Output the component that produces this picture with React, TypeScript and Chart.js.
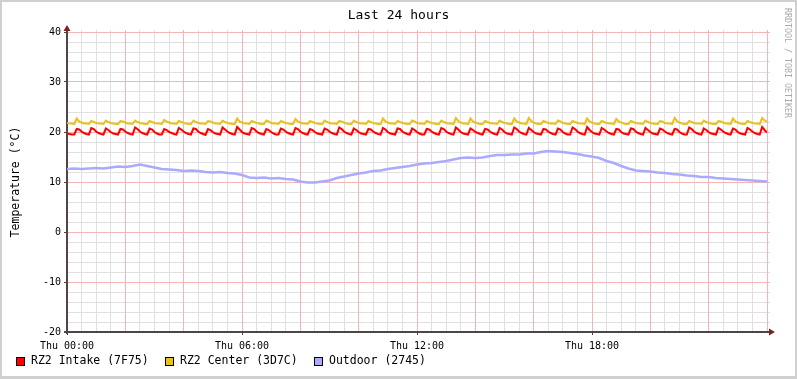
import React, { useEffect, useRef } from "react";
import { Chart, registerables } from "chart.js";

Chart.register(...registerables);

const TITLE = "Last 24 hours";
const Y_TITLE = "Temperature (°C)";
const WATERMARK = "RRDTOOL / TOBI OETIKER";
const X_TICKS = [0, 6, 12, 18];
const X_TICK_LABELS = ["Thu 00:00", "Thu 06:00", "Thu 12:00", "Thu 18:00"];
const SERIES_NAMES = ["RZ2 Intake (7F75)", "RZ2 Center (3D7C)", "Outdoor (2745)"];
const SERIES_COLORS = ["#FF0000", "#EBC11C", "#AAAAFF"];

// 5-minute samples starting Thu 00:00
const INTAKE_STEP_MIN = 5;
const intake = [
  19.7, 19.6, 19.5, 19.5,
  20.6, 20.5, 20.1, 19.8, 19.6, 19.5,
  20.8, 20.6, 20.1, 19.8, 19.6, 19.5,
  20.7, 20.4, 20.0, 19.7, 19.6, 19.5,
  20.6, 20.5, 20.1, 19.8, 19.6, 19.5,
  20.9, 20.6, 20.1, 19.8, 19.6, 19.5,
  20.7, 20.5, 20.0, 19.7, 19.5, 19.5,
  20.6, 20.4, 20.0, 19.8, 19.6, 19.5,
  20.8, 20.5, 20.1, 19.8, 19.6, 19.5,
  20.7, 20.6, 20.1, 19.8, 19.6, 19.4,
  20.6, 20.4, 20.0, 19.7, 19.6, 19.5,
  20.9, 20.5, 20.1, 19.8, 19.6, 19.5,
  21.0, 20.5, 20.0, 19.7, 19.6, 19.5,
  20.8, 20.6, 20.1, 19.8, 19.6, 19.5,
  20.6, 20.4, 20.0, 19.7, 19.5, 19.5,
  20.7, 20.5, 20.1, 19.8, 19.6, 19.5,
  20.8, 20.6, 20.1, 19.8, 19.6, 19.5,
  20.6, 20.4, 20.0, 19.7, 19.6, 19.5,
  20.7, 20.5, 20.1, 19.8, 19.6, 19.5,
  20.9, 20.6, 20.1, 19.8, 19.6, 19.5,
  20.7, 20.4, 20.0, 19.7, 19.6, 19.5,
  20.6, 20.5, 20.1, 19.8, 19.6, 19.5,
  20.8, 20.5, 20.0, 19.7, 19.6, 19.5,
  20.7, 20.6, 20.1, 19.8, 19.6, 19.5,
  20.7, 20.4, 20.0, 19.7, 19.5, 19.5,
  20.6, 20.5, 20.1, 19.8, 19.6, 19.5,
  20.8, 20.6, 20.1, 19.8, 19.6, 19.5,
  20.9, 20.5, 20.0, 19.7, 19.6, 19.5,
  20.7, 20.4, 20.0, 19.8, 19.6, 19.5,
  20.6, 20.5, 20.1, 19.8, 19.6, 19.5,
  20.8, 20.5, 20.0, 19.7, 19.6, 19.5,
  20.9, 20.6, 20.1, 19.8, 19.6, 19.5,
  20.8, 20.4, 20.0, 19.7, 19.6, 19.5,
  20.6, 20.5, 20.1, 19.8, 19.6, 19.5,
  20.7, 20.5, 20.0, 19.7, 19.5, 19.5,
  20.9, 20.6, 20.1, 19.8, 19.6, 19.5,
  21.0, 20.4, 20.0, 19.7, 19.6, 19.5,
  20.8, 20.5, 20.1, 19.8, 19.6, 19.5,
  20.6, 20.5, 20.0, 19.7, 19.6, 19.5,
  20.7, 20.6, 20.1, 19.8, 19.6, 19.5,
  20.8, 20.4, 20.0, 19.7, 19.6, 19.5,
  20.7, 20.5, 20.1, 19.8, 19.6, 19.5,
  20.6, 20.5, 20.0, 19.7, 19.5, 19.5,
  20.9, 20.6, 20.1, 19.8, 19.6, 19.5,
  20.7, 20.4, 20.0, 19.7, 19.6, 19.5,
  20.8, 20.5, 20.1, 19.8, 19.6, 19.5,
  20.7, 20.5, 20.0, 19.7, 19.6, 19.5,
  20.8, 20.5, 20.1, 19.8, 19.6, 19.5,
  21.0, 20.4, 19.9,
];

const CENTER_STEP_MIN = 5;
const center = [
  21.8, 21.7, 21.7, 21.6,
  22.7, 22.1, 21.9, 21.7, 21.7, 21.6,
  22.2, 22.0, 21.8, 21.7, 21.7, 21.6,
  22.3, 22.0, 21.8, 21.7, 21.6, 21.6,
  22.2, 22.1, 21.9, 21.7, 21.7, 21.6,
  22.3, 22.0, 21.8, 21.7, 21.6, 21.6,
  22.2, 22.0, 21.8, 21.7, 21.7, 21.6,
  22.4, 22.1, 21.9, 21.7, 21.7, 21.6,
  22.2, 22.0, 21.8, 21.7, 21.6, 21.6,
  22.3, 22.0, 21.8, 21.7, 21.7, 21.6,
  22.2, 22.1, 21.9, 21.7, 21.7, 21.6,
  22.3, 22.0, 21.8, 21.7, 21.6, 21.6,
  22.7, 22.1, 21.9, 21.7, 21.7, 21.6,
  22.2, 22.0, 21.8, 21.7, 21.6, 21.6,
  22.3, 22.1, 21.8, 21.7, 21.7, 21.6,
  22.2, 22.0, 21.8, 21.7, 21.6, 21.6,
  22.6, 22.1, 21.9, 21.7, 21.7, 21.6,
  22.2, 22.0, 21.8, 21.7, 21.6, 21.6,
  22.3, 22.0, 21.8, 21.7, 21.7, 21.6,
  22.2, 22.1, 21.9, 21.7, 21.6, 21.6,
  22.3, 22.0, 21.8, 21.7, 21.7, 21.6,
  22.2, 22.0, 21.8, 21.7, 21.6, 21.6,
  22.7, 22.1, 21.9, 21.7, 21.7, 21.6,
  22.2, 22.0, 21.8, 21.7, 21.6, 21.6,
  22.3, 22.1, 21.8, 21.7, 21.7, 21.6,
  22.2, 22.0, 21.8, 21.7, 21.6, 21.6,
  22.3, 22.0, 21.8, 21.7, 21.7, 21.6,
  22.8, 22.2, 21.9, 21.7, 21.7, 21.6,
  22.7, 22.1, 21.9, 21.7, 21.6, 21.6,
  22.2, 22.0, 21.8, 21.7, 21.7, 21.6,
  22.3, 22.0, 21.8, 21.7, 21.6, 21.6,
  22.7, 22.1, 21.9, 21.7, 21.7, 21.6,
  22.8, 22.2, 21.9, 21.7, 21.6, 21.6,
  22.2, 22.0, 21.8, 21.7, 21.7, 21.6,
  22.3, 22.1, 21.8, 21.7, 21.6, 21.6,
  22.2, 22.0, 21.8, 21.7, 21.7, 21.6,
  22.7, 22.1, 21.9, 21.7, 21.6, 21.6,
  22.2, 22.0, 21.8, 21.7, 21.7, 21.6,
  22.6, 22.1, 21.9, 21.7, 21.6, 21.6,
  22.2, 22.0, 21.8, 21.7, 21.7, 21.6,
  22.3, 22.0, 21.8, 21.7, 21.6, 21.6,
  22.2, 22.1, 21.8, 21.7, 21.7, 21.6,
  22.8, 22.2, 21.9, 21.7, 21.6, 21.6,
  22.2, 22.0, 21.8, 21.7, 21.7, 21.6,
  22.3, 22.0, 21.8, 21.7, 21.6, 21.6,
  22.2, 22.1, 21.9, 21.7, 21.7, 21.6,
  22.7, 22.1, 21.9, 21.7, 21.6, 21.6,
  22.2, 22.0, 21.8, 21.7, 21.7, 21.6,
  22.8, 22.3, 22.0,
];

// 15-minute samples starting Thu 00:00
const OUTDOOR_STEP_MIN = 15;
const outdoor = [
  12.6, 12.7, 12.6, 12.7, 12.8, 12.7, 12.9, 13.1,
  13.0, 13.2, 13.5, 13.2, 12.9, 12.6, 12.5, 12.4,
  12.2, 12.3, 12.2, 12.0, 11.9, 12.0, 11.8, 11.7,
  11.4, 10.9, 10.8, 10.9, 10.7, 10.8, 10.6, 10.5,
  10.1, 9.9, 9.9, 10.1, 10.3, 10.8, 11.1, 11.4,
  11.7, 11.9, 12.2, 12.3, 12.6, 12.8, 13.0, 13.2,
  13.5, 13.7, 13.8, 14.0, 14.2, 14.5, 14.8, 14.9,
  14.8, 14.9, 15.2, 15.4, 15.4, 15.5, 15.5, 15.7,
  15.7, 16.0, 16.2, 16.1, 16.0, 15.8, 15.6, 15.3,
  15.1, 14.8, 14.2, 13.8, 13.2, 12.7, 12.3, 12.2,
  12.1, 11.9, 11.8, 11.6, 11.5, 11.3, 11.2, 11.0,
  11.0, 10.8, 10.7, 10.6, 10.5, 10.4, 10.3, 10.2,
  10.1,
];

const MONO = "'DejaVu Sans Mono', monospace";

const toPoints = (vals: number[], stepMin: number) =>
  vals.map((v, i) => ({ x: (i * stepMin) / 60, y: v }));

const rrdPlugin = {
  id: "rrdDecor",
  beforeDraw(chart: any) {
    const { ctx, width, height } = chart;
    ctx.save();
    ctx.fillStyle = "#ffffff";
    ctx.fillRect(0, 0, width, height);
    ctx.fillStyle = "#d0d0d0";
    ctx.fillRect(0, 0, width, 2);
    ctx.fillRect(0, 0, 2, height);
    ctx.fillRect(0, height - 3, width, 3);
    ctx.fillRect(width - 2, 0, 2, height);
    ctx.restore();
  },
  beforeDatasetsDraw(chart: any) {
    const { ctx, chartArea } = chart;
    const xs = chart.scales.x;
    const ys = chart.scales.y;
    const { left, right, top, bottom } = chartArea;
    ctx.save();
    ctx.lineWidth = 1;
    // minor grid
    ctx.strokeStyle = "#e0e0e0";
    ctx.beginPath();
    for (let v = -20; v <= 40; v += 2) {
      if (v % 10 === 0) continue;
      const y = Math.floor(ys.getPixelForValue(v)) + 0.5;
      ctx.moveTo(left, y);
      ctx.lineTo(right + 3, y);
    }
    for (let h = 0; h <= 24; h += 0.5) {
      if (h % 2 === 0) continue;
      const x = Math.floor(xs.getPixelForValue(h)) + 0.5;
      ctx.moveTo(x, top - 2);
      ctx.lineTo(x, bottom);
    }
    ctx.stroke();
    // major grid
    ctx.strokeStyle = "#f2b6b6";
    ctx.beginPath();
    for (let v = -20; v <= 40; v += 10) {
      const y = Math.floor(ys.getPixelForValue(v)) + 0.5;
      ctx.moveTo(left, y);
      ctx.lineTo(right + 3, y);
    }
    for (let h = 2; h <= 24; h += 2) {
      const x = Math.floor(xs.getPixelForValue(h)) + 0.5;
      ctx.moveTo(x, top - 2);
      ctx.lineTo(x, bottom);
    }
    ctx.stroke();
    // tick marks
    ctx.strokeStyle = "#444444";
    ctx.beginPath();
    for (let v = -20; v <= 40; v += 10) {
      const y = Math.floor(ys.getPixelForValue(v)) + 0.5;
      ctx.moveTo(left - 3, y);
      ctx.lineTo(left, y);
    }
    for (const h of X_TICKS) {
      const x = Math.floor(xs.getPixelForValue(h)) + 0.5;
      ctx.moveTo(x, bottom);
      ctx.lineTo(x, bottom + 3);
    }
    ctx.stroke();
    // axes
    ctx.fillStyle = "#4e4646";
    ctx.fillRect(left - 1, top - 4, 2, bottom - top + 6);
    ctx.fillRect(left - 3, bottom - 1, right - left + 8, 2);
    // arrows
    ctx.fillStyle = "#801f1f";
    ctx.beginPath();
    ctx.moveTo(left, top - 7);
    ctx.lineTo(left - 3.5, top - 1);
    ctx.lineTo(left + 3.5, top - 1);
    ctx.closePath();
    ctx.fill();
    ctx.beginPath();
    ctx.moveTo(right + 8, bottom);
    ctx.lineTo(right + 2, bottom - 3.5);
    ctx.lineTo(right + 2, bottom + 3.5);
    ctx.closePath();
    ctx.fill();
    ctx.restore();
  },
  afterDraw(chart: any) {
    const { ctx, width } = chart;
    ctx.save();
    // title
    ctx.fillStyle = "#000";
    ctx.font = `13px ${MONO}`;
    ctx.textAlign = "center";
    ctx.textBaseline = "middle";
    ctx.fillText(TITLE, width / 2, 16);
    // watermark
    ctx.save();
    ctx.translate(787, 8);
    ctx.rotate(Math.PI / 2);
    ctx.fillStyle = "#aaaaaa";
    ctx.font = `8.3px ${MONO}`;
    ctx.textAlign = "left";
    ctx.textBaseline = "middle";
    ctx.fillText(WATERMARK, 0, 0);
    ctx.restore();
    // legend
    const boxX = [16, 165, 314];
    ctx.font = `11.5px ${MONO}`;
    ctx.textAlign = "left";
    ctx.textBaseline = "middle";
    for (let i = 0; i < SERIES_NAMES.length; i++) {
      ctx.fillStyle = SERIES_COLORS[i];
      ctx.fillRect(boxX[i], 357, 9, 9);
      ctx.strokeStyle = "#000";
      ctx.lineWidth = 1;
      ctx.strokeRect(boxX[i] + 0.5, 357.5, 8, 8);
      ctx.fillStyle = "#000";
      ctx.fillText(SERIES_NAMES[i], boxX[i] + 15, 361.5);
    }
    ctx.restore();
  },
};

export default function App() {
  const ref = useRef<HTMLCanvasElement | null>(null);

  useEffect(() => {
    if (!ref.current) return;
    const chart = new Chart(ref.current, {
      type: "line",
      data: {
        datasets: [
          {
            label: SERIES_NAMES[2],
            data: toPoints(outdoor, OUTDOOR_STEP_MIN),
            borderColor: SERIES_COLORS[2],
            borderWidth: 2.5,
            pointRadius: 0,
            tension: 0,
          },
          {
            label: SERIES_NAMES[1],
            data: toPoints(center, CENTER_STEP_MIN),
            borderColor: SERIES_COLORS[1],
            borderWidth: 2,
            pointRadius: 0,
            tension: 0,
          },
          {
            label: SERIES_NAMES[0],
            data: toPoints(intake, INTAKE_STEP_MIN),
            borderColor: SERIES_COLORS[0],
            borderWidth: 2,
            pointRadius: 0,
            tension: 0,
          },
        ],
      },
      options: {
        responsive: false,
        animation: false,
        layout: { padding: { left: 0, right: 30, top: 32, bottom: 0 } },
        plugins: {
          legend: { display: false },
          title: { display: false },
          tooltip: { enabled: false },
        },
        scales: {
          x: {
            type: "linear",
            min: 0,
            max: 24,
            afterFit: (s: any) => {
              s.height = 47;
            },
            grid: { display: false, drawTicks: false },
            border: { display: false },
            ticks: {
              stepSize: 6,
              autoSkip: false,
              maxRotation: 0,
              padding: 8,
              color: "#000",
              font: { family: MONO, size: 10 },
              callback: (v: any) => {
                const i = X_TICKS.indexOf(Number(v));
                return i >= 0 ? X_TICK_LABELS[i] : "";
              },
            },
          },
          y: {
            min: -20,
            max: 40,
            afterFit: (s: any) => {
              s.width = 67;
            },
            grid: { display: false, drawTicks: false },
            border: { display: false },
            ticks: {
              stepSize: 10,
              padding: 6,
              color: "#000",
              font: { family: MONO, size: 10 },
            },
            title: {
              display: true,
              text: Y_TITLE,
              color: "#000",
              font: { family: MONO, size: 11.5 },
              padding: { top: 9, bottom: 0 },
            },
          },
        },
      },
      plugins: [rrdPlugin],
    });
    return () => chart.destroy();
  }, []);

  return (
    <canvas
      ref={ref}
      width={797}
      height={379}
      style={{ position: "absolute", left: 0, top: 0, display: "block" }}
    />
  );
}
